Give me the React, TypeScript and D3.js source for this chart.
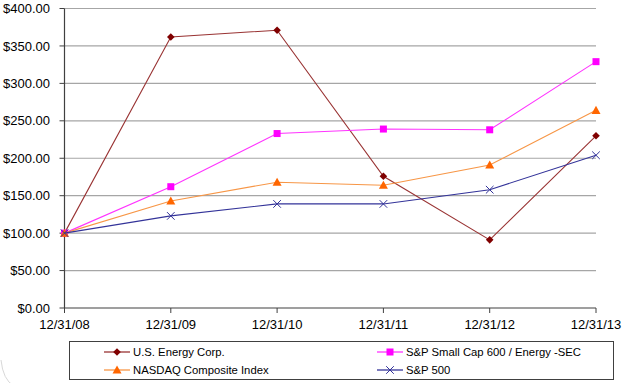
import React from "react";
import * as d3 from "d3";

const categories = ["12/31/08", "12/31/09", "12/31/10", "12/31/11", "12/31/12", "12/31/13"];
const usEnergy = [100, 362, 371, 176, 91, 230];
const spSmallCap = [100, 162, 233, 239, 238, 329];
const nasdaq = [100, 143, 168, 164, 191, 264];
const sp500 = [100, 123, 139, 139, 158, 204];
const yTicks = [0, 50, 100, 150, 200, 250, 300, 350, 400];
const seriesNames = ["U.S. Energy Corp.", "S&P Small Cap 600 / Energy -SEC", "NASDAQ Composite Index", "S&P 500"];

const W = 624, H = 383;
const left = 64.5, right = 596, top = 8.5, bottom = 308;

type Shape = "diamond" | "square" | "triangle" | "x";
const series: { name: string; values: number[]; line: string; mark: string; shape: Shape }[] = [
  { name: seriesNames[0], values: usEnergy, line: "#993333", mark: "#800000", shape: "diamond" },
  { name: seriesNames[1], values: spSmallCap, line: "#FF33FF", mark: "#FF00FF", shape: "square" },
  { name: seriesNames[2], values: nasdaq, line: "#F79646", mark: "#FF6600", shape: "triangle" },
  { name: seriesNames[3], values: sp500, line: "#333399", mark: "#333399", shape: "x" },
];

function Marker({ x, y, shape, color }: { x: number; y: number; shape: Shape; color: string }) {
  if (shape === "diamond") {
    const s = 3.8;
    return <path d={`M${x},${y - s}L${x + s},${y}L${x},${y + s}L${x - s},${y}Z`} fill={color} />;
  }
  if (shape === "square") {
    const s = 3.5;
    return <rect x={x - s} y={y - s} width={2 * s} height={2 * s} fill={color} />;
  }
  if (shape === "triangle") {
    const s = 4.5;
    return <path d={`M${x},${y - s}L${x + s},${y + s * 0.8}L${x - s},${y + s * 0.8}Z`} fill={color} />;
  }
  const s = 3.8;
  return (
    <path d={`M${x - s},${y - s}L${x + s},${y + s}M${x - s},${y + s}L${x + s},${y - s}`} stroke={color} strokeWidth={1} fill="none" />
  );
}

export default function App() {
  const x = d3.scalePoint<string>().domain(categories).range([left, right]);
  const y = d3.scaleLinear().domain([0, 400]).range([bottom, top]);
  const fmt = (v: number) => "$" + d3.format(".2f")(v);
  const font = "Arial, 'Liberation Sans', sans-serif";

  const legendItems = [
    { s: series[0], lx: 104, ly: 352 },
    { s: series[1], lx: 377, ly: 352 },
    { s: series[2], lx: 104, ly: 370 },
    { s: series[3], lx: 377, ly: 370 },
  ];

  return (
    <svg width={W} height={H} style={{ position: "absolute", left: 0, top: 0, background: "#fff" }} fontFamily={font}>
      <rect x={-20} y={-20} width={W + 40} height={H + 40} rx={0} fill="#fff" />
      <path d={`M1,360 Q3,380 14,386`} stroke="#d8d8d8" fill="none" />
      {yTicks.filter((t) => t > 0).map((t) => (
        <line key={t} x1={left} x2={right} y1={y(t)} y2={y(t)} stroke="#a6a6a6" strokeWidth={1.2} />
      ))}
      <line x1={left} x2={left} y1={top} y2={bottom} stroke="#404040" strokeWidth={1.2} />
      <line x1={left} x2={right} y1={bottom} y2={bottom} stroke="#404040" strokeWidth={1.2} />
      {yTicks.map((t) => (
        <g key={t}>
          <line x1={left - 5} x2={left} y1={y(t)} y2={y(t)} stroke="#404040" />
          <text x={50} y={y(t)} dy="0.36em" textAnchor="end" fontSize={13} fill="#000">{fmt(t)}</text>
        </g>
      ))}
      {categories.map((c) => (
        <g key={c}>
          <line x1={x(c)!} x2={x(c)!} y1={bottom} y2={bottom + 5} stroke="#404040" />
          <text x={x(c)!} y={329} textAnchor="middle" fontSize={13} fill="#000">{c}</text>
        </g>
      ))}
      {series.map((s) => {
        const line = d3.line<number>().x((_, i) => x(categories[i])!).y((v) => y(v));
        return (
          <g key={s.name}>
            <path d={line(s.values)!} fill="none" stroke={s.line} strokeWidth={1.1} />
            {s.values.map((v, i) => (
              <Marker key={i} x={x(categories[i])!} y={y(v)} shape={s.shape} color={s.mark} />
            ))}
          </g>
        );
      })}
      <rect x={69.5} y={341.5} width={544} height={38} fill="#fff" stroke="#404040" strokeWidth={1} />
      {legendItems.map(({ s, lx, ly }) => (
        <g key={s.name}>
          <line x1={lx} x2={lx + 26} y1={ly} y2={ly} stroke={s.line} strokeWidth={1.3} />
          <Marker x={lx + 13} y={ly} shape={s.shape} color={s.mark} />
          <text x={lx + 29} y={ly} dy="0.36em" fontSize={11.3} fill="#000">{s.name}</text>
        </g>
      ))}
    </svg>
  );
}
